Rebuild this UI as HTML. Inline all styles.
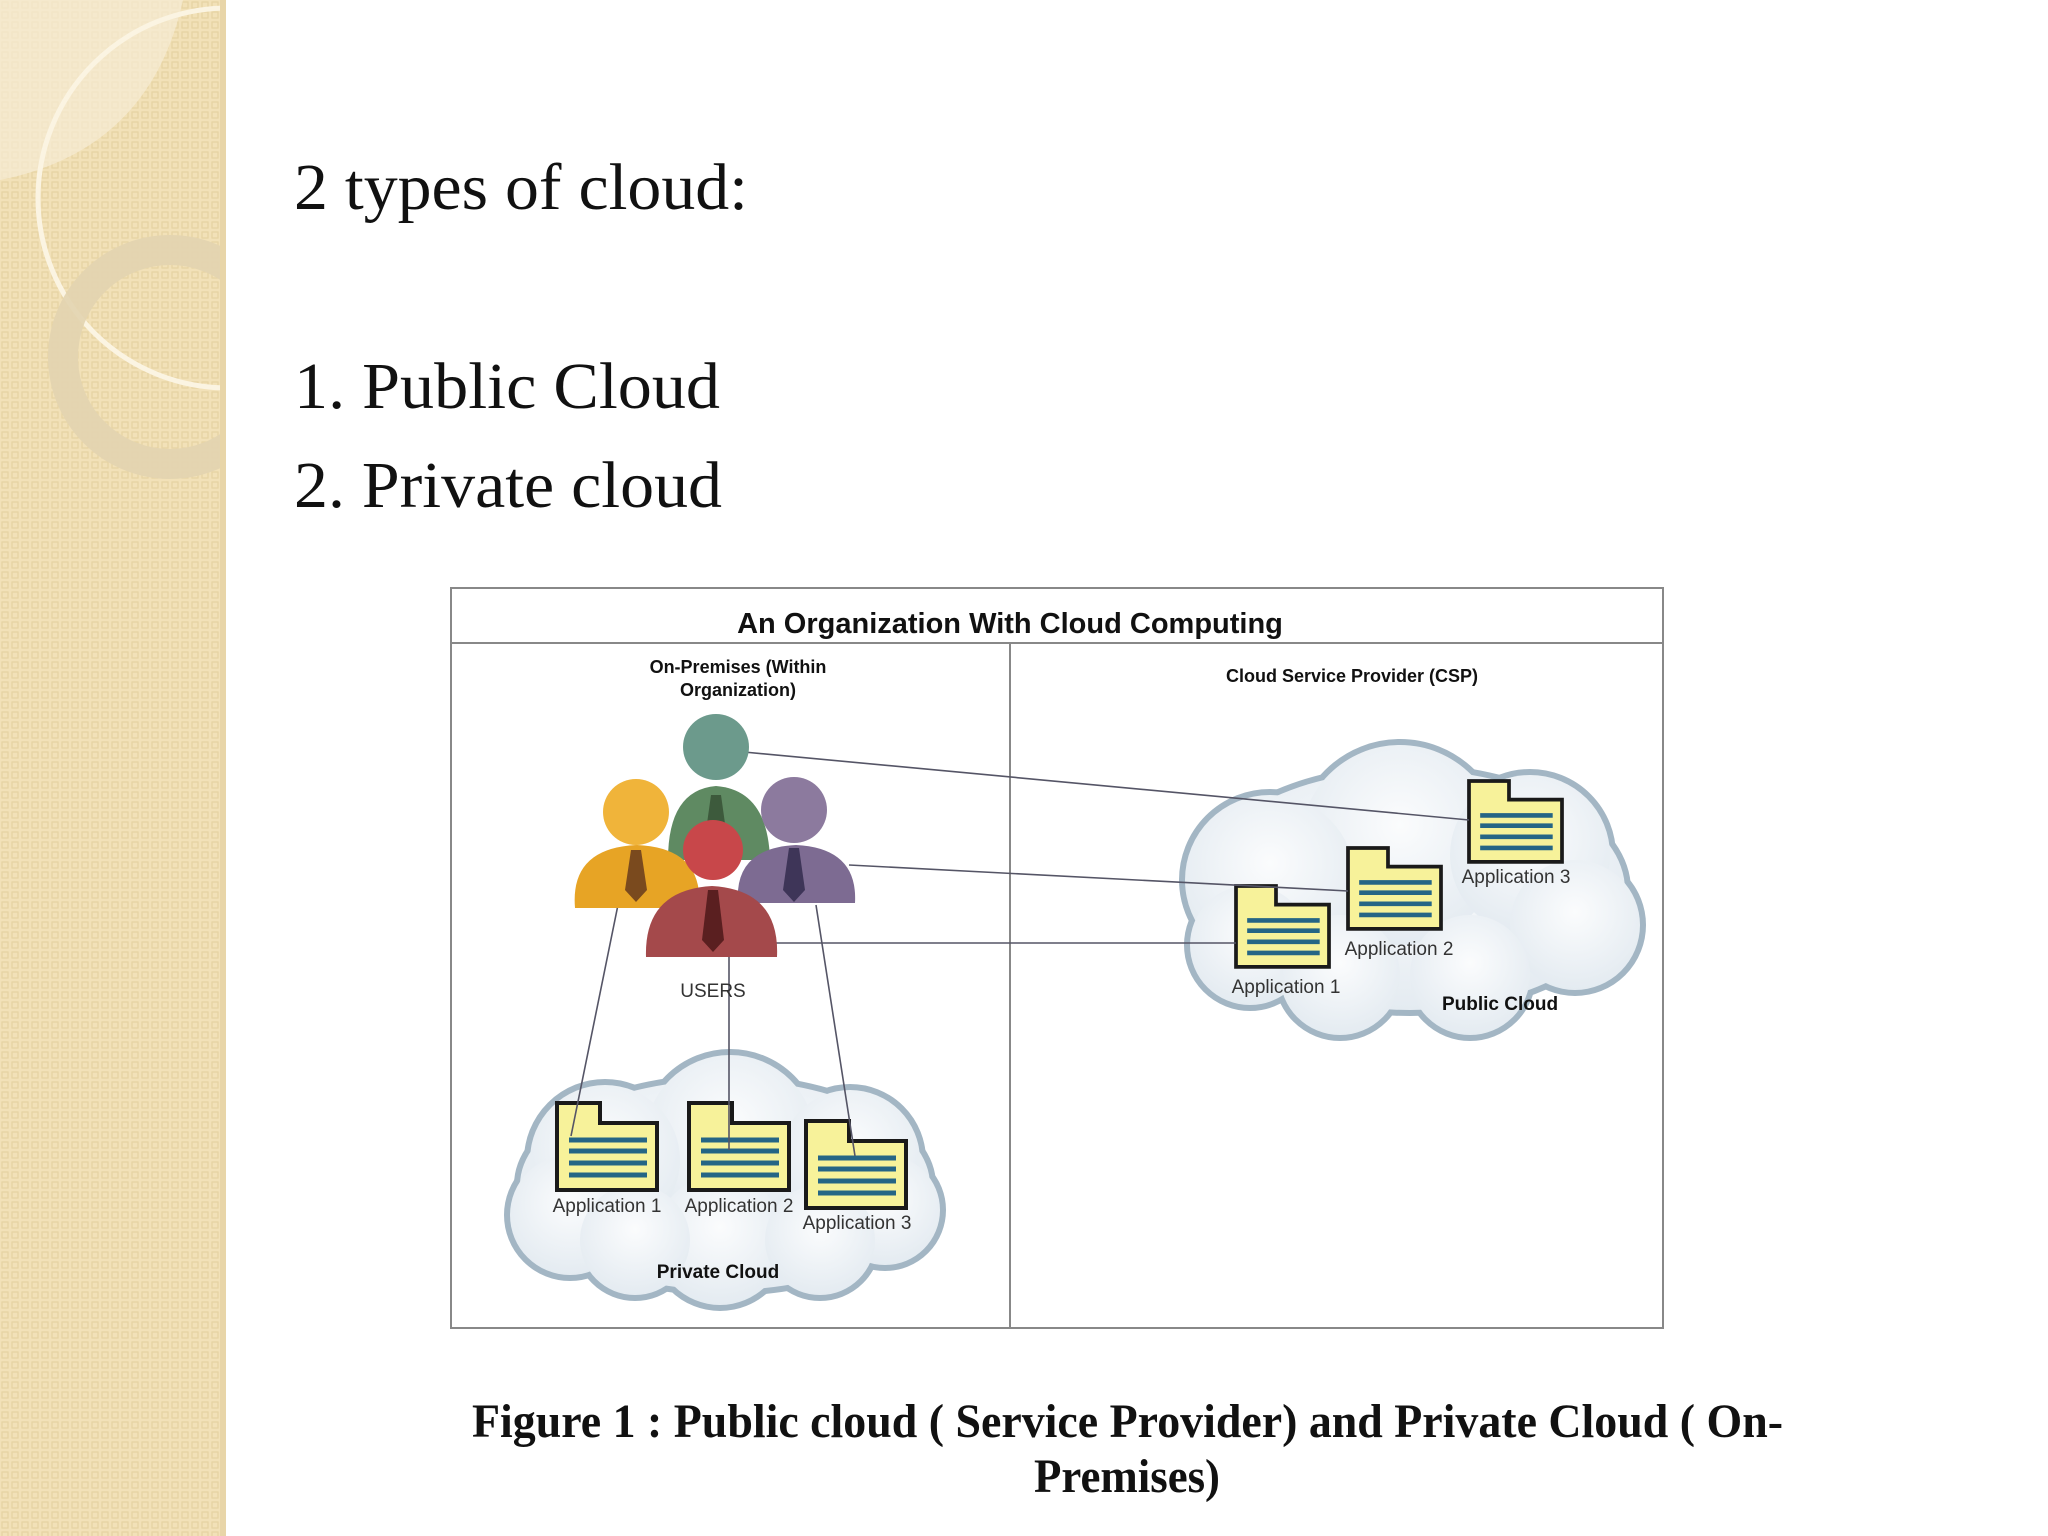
<!DOCTYPE html>
<html><head><meta charset="utf-8"><style>html,body{margin:0;padding:0;background:#fff}svg{display:block}</style></head>
<body>
<svg width="2048" height="1536" viewBox="0 0 2048 1536" xmlns="http://www.w3.org/2000/svg">
<defs>
<pattern id="dots" width="10" height="10" patternUnits="userSpaceOnUse">
<rect width="10" height="10" fill="#f2e1b8"/>
<rect x="2" y="2" width="6" height="6" fill="none" stroke="#e6d2a2" stroke-width="1.2"/>
</pattern>
<clipPath id="sb"><rect x="0" y="0" width="222" height="1536"/></clipPath>
<radialGradient id="cg" cx="0.5" cy="0.4" r="0.6"><stop offset="0" stop-color="#fbfcfd"/><stop offset="1" stop-color="#e4ebf1"/></radialGradient>
<g id="doc">
<path d="M0,0 H43 V20 H100 V87 H0 Z" fill="#f7f29a" stroke="#1a1a1a" stroke-width="4"/>
<g stroke="#256585" stroke-width="5"><line x1="12" y1="37" x2="90" y2="37"/><line x1="12" y1="48" x2="90" y2="48"/><line x1="12" y1="60" x2="90" y2="60"/><line x1="12" y1="72" x2="90" y2="72"/></g>
</g>
</defs>
<!-- sidebar -->
<rect x="0" y="0" width="226" height="1536" fill="url(#dots)"/>
<g clip-path="url(#sb)">
<path d="M0,0 H183 Q150,150 0,180 Z" fill="#f6ecd6" opacity="0.7"/>
<circle cx="228" cy="198" r="190" fill="none" stroke="#fbf4e2" stroke-width="5"/>
<circle cx="170" cy="357" r="107" fill="none" stroke="#e2d4b0" stroke-width="30" opacity="0.9"/>
</g>
<rect x="220" y="0" width="6" height="1536" fill="#e8d5a8"/>
<!-- title texts -->
<g font-family="Liberation Serif, serif" fill="#111">
<text x="294" y="209" font-size="66" textLength="454" lengthAdjust="spacingAndGlyphs">2 types of cloud:</text>
<text x="294" y="408" font-size="66" textLength="426" lengthAdjust="spacingAndGlyphs">1. Public Cloud</text>
<text x="294" y="507" font-size="66" textLength="428" lengthAdjust="spacingAndGlyphs">2. Private cloud</text>
</g>
<!-- diagram frame -->
<rect x="451" y="588" width="1212" height="740" fill="#fff" stroke="#888" stroke-width="2"/>
<line x1="451" y1="643" x2="1663" y2="643" stroke="#888" stroke-width="2"/>
<line x1="1010" y1="643" x2="1010" y2="1328" stroke="#888" stroke-width="2"/>
<g font-family="Liberation Sans, sans-serif" fill="#111" text-anchor="middle">
<text x="1010" y="633" font-size="29" font-weight="bold">An Organization With Cloud Computing</text>
<text x="738" y="673" font-size="18" font-weight="bold">On-Premises (Within</text>
<text x="738" y="696" font-size="18" font-weight="bold">Organization)</text>
<text x="1352" y="682" font-size="18" font-weight="bold">Cloud Service Provider (CSP)</text>
</g>
<!-- public cloud -->
<g stroke="#a3b6c4" stroke-width="12">
<ellipse cx="1410" cy="890" rx="215" ry="120"/>
<circle cx="1400" cy="845" r="100"/><circle cx="1270" cy="880" r="85"/><circle cx="1530" cy="855" r="80"/>
<circle cx="1575" cy="925" r="65"/><circle cx="1250" cy="945" r="60"/><circle cx="1340" cy="975" r="60"/><circle cx="1470" cy="975" r="60"/>
</g>
<g fill="url(#cg)">
<ellipse cx="1410" cy="890" rx="215" ry="120"/>
<circle cx="1400" cy="845" r="100"/><circle cx="1270" cy="880" r="85"/><circle cx="1530" cy="855" r="80"/>
<circle cx="1575" cy="925" r="65"/><circle cx="1250" cy="945" r="60"/><circle cx="1340" cy="975" r="60"/><circle cx="1470" cy="975" r="60"/>
</g>
<!-- private cloud -->
<g stroke="#a3b6c4" stroke-width="12">
<ellipse cx="725" cy="1185" rx="205" ry="105"/>
<circle cx="730" cy="1140" r="85"/><circle cx="605" cy="1160" r="75"/><circle cx="850" cy="1160" r="70"/>
<circle cx="570" cy="1215" r="60"/><circle cx="885" cy="1210" r="55"/><circle cx="720" cy="1240" r="65"/><circle cx="635" cy="1240" r="55"/><circle cx="820" cy="1240" r="55"/>
</g>
<g fill="url(#cg)">
<ellipse cx="725" cy="1185" rx="205" ry="105"/>
<circle cx="730" cy="1140" r="85"/><circle cx="605" cy="1160" r="75"/><circle cx="850" cy="1160" r="70"/>
<circle cx="570" cy="1215" r="60"/><circle cx="885" cy="1210" r="55"/><circle cx="720" cy="1240" r="65"/><circle cx="635" cy="1240" r="55"/><circle cx="820" cy="1240" r="55"/>
</g>
<!-- docs -->
<use href="#doc" transform="translate(1469,781) scale(0.93)"/>
<use href="#doc" transform="translate(1348,848) scale(0.93)"/>
<use href="#doc" transform="translate(1236,886) scale(0.93)"/>
<use href="#doc" x="557" y="1103"/>
<use href="#doc" x="689" y="1103"/>
<use href="#doc" x="806" y="1121"/>
<!-- connectors -->
<g stroke="#556" stroke-width="1.6" fill="none">
<line x1="744" y1="752" x2="1469" y2="820"/>
<line x1="849" y1="865" x2="1348" y2="891"/>
<line x1="757" y1="943" x2="1236" y2="943"/>
<line x1="620" y1="895" x2="571" y2="1136"/>
<line x1="729" y1="955" x2="729" y2="1150"/>
<line x1="816" y1="905" x2="855" y2="1156"/>
</g>
<!-- users -->
<g>
<path d="M668,860 Q668,790 716,786 Q768,790 770,860 Z" fill="#5f8a62"/>
<circle cx="716" cy="747" r="33" fill="#6c9a8c"/>
<path d="M711,795 L721,795 L728,845 L716,857 L704,845 Z" fill="#3d5a3c"/>
<path d="M575,908 Q570,848 637,845 Q704,848 699,908 Z" fill="#e7a425"/>
<circle cx="636" cy="812" r="33" fill="#f0b43a"/>
<path d="M631,850 L641,850 L647,890 L636,902 L625,890 Z" fill="#7a4a1e"/>
<path d="M738,903 Q734,848 796,845 Q858,848 855,903 Z" fill="#7d6b92"/>
<circle cx="794" cy="810" r="33" fill="#8c7a9e"/>
<path d="M789,848 L799,848 L805,890 L794,902 L783,890 Z" fill="#3e3558"/>
<path d="M646,957 Q644,890 712,886 Q780,890 777,957 Z" fill="#a4494b"/>
<circle cx="713" cy="850" r="30" fill="#c8474a"/>
<path d="M708,890 L718,890 L724,940 L713,952 L702,940 Z" fill="#5a1f20"/>
</g>
<!-- labels -->
<g font-family="Liberation Sans, sans-serif" fill="#333" font-size="19" text-anchor="middle">
<text x="713" y="997">USERS</text>
<text x="1516" y="883">Application 3</text>
<text x="1399" y="955">Application 2</text>
<text x="1286" y="993">Application 1</text>
<text x="607" y="1212">Application 1</text>
<text x="739" y="1212">Application 2</text>
<text x="857" y="1229">Application 3</text>
<text x="1500" y="1010" font-weight="bold" fill="#111">Public Cloud</text>
<text x="718" y="1278" font-weight="bold" fill="#111">Private Cloud</text>
</g>
<!-- caption -->
<g font-family="Liberation Serif, serif" font-weight="bold" fill="#111" font-size="48">
<text x="472" y="1437" textLength="1311" lengthAdjust="spacingAndGlyphs">Figure 1 : Public cloud ( Service Provider)  and Private Cloud ( On-</text>
<text x="1034" y="1492" textLength="186" lengthAdjust="spacingAndGlyphs">Premises)</text>
</g>
</svg>
</body></html>
